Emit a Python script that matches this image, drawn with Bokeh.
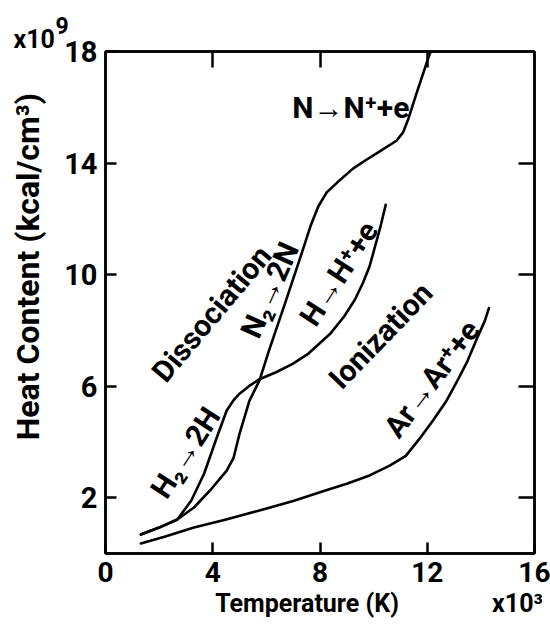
import math
from bokeh.plotting import figure
from bokeh.models import LinearAxis, FixedTicker, ColumnDataSource, Range1d, Title
from bokeh.core.properties import value
from bokeh.embed import file_html
from bokeh.resources import INLINE

# ---- data (temperature in 10^3 K, heat content in 10^9 kcal/cm^3) ----
T_H = [1.32, 2.0, 2.68, 3.2, 3.68, 4.15, 4.52, 4.78, 5.0, 5.35, 5.74, 6.36, 6.98,
       7.57, 8.4, 8.9, 9.3, 9.6, 9.85, 10.05, 10.25, 10.45]
Q_H = [0.68, 0.93, 1.22, 1.9, 2.87, 4.16, 5.13, 5.5, 5.73, 6.0, 6.25, 6.5, 6.8,
       7.17, 7.9, 8.5, 9.1, 9.7, 10.3, 11.0, 11.7, 12.5]

T_N = [1.32, 2.0, 2.68, 3.3, 3.9, 4.52, 4.78, 5.0, 5.37, 5.74, 6.1, 6.73, 7.35,
       7.65, 7.94, 8.25, 8.64, 9.23, 9.7, 10.2, 10.85, 11.1, 11.3, 11.6, 12.05, 12.13]
Q_N = [0.68, 0.93, 1.22, 1.65, 2.26, 2.97, 3.44, 4.3, 5.48, 6.2, 7.28, 9.07, 10.86,
       11.75, 12.45, 12.95, 13.3, 13.8, 14.1, 14.4, 14.8, 15.1, 15.6, 16.5, 17.8, 18.0]

T_Ar = [1.32, 2.2, 3.3, 4.5, 5.74, 7.0, 8.2, 9.0, 9.85, 10.6, 11.2, 11.7, 12.2,
        12.7, 13.1, 13.5, 13.85, 14.15, 14.3]
Q_Ar = [0.36, 0.6, 0.93, 1.22, 1.54, 1.88, 2.26, 2.5, 2.8, 3.15, 3.5, 4.1, 4.75,
        5.45, 6.15, 6.9, 7.7, 8.35, 8.8]

x_ticks = [0, 4, 8, 12, 16]
y_ticks = [2, 6, 10, 14, 18]
top_ticks = [4, 8, 12]
right_ticks = [2, 6, 10, 14]

label_text = ["Dissociation", "N\u2082\u21922N", "H\u2082\u21922H", "H\u2192H\u207a+e",
              "Ionization", "Ar\u2192Ar\u207a+e", "N\u2192N\u207a+e"]
label_T = [3.95, 6.12, 2.98, 8.7, 10.26, 12.17, 9.15]
label_Q = [8.6, 9.45, 3.62, 10.04, 7.82, 6.27, 15.99]
label_deg = [50, 66, 57, 57, 46, 53, 0]

FONT = "Roboto"
STYLE = "bold"
NB = "\u00a0"

p = figure(width=550, height=633, x_range=Range1d(0, 16), y_range=Range1d(0, 18),
           output_backend="svg", toolbar_location=None,
           x_axis_location=None, y_axis_location=None,
           min_border_left=105, min_border_right=16, min_border_top=51, min_border_bottom=80)
p.xgrid.visible = False
p.ygrid.visible = False
p.outline_line_color = "black"
p.outline_line_width = 2.5
p.background_fill_color = "white"
p.border_fill_color = "white"


def make_axis(ticks, tick_len, label_size, standoff):
    ax = LinearAxis(ticker=FixedTicker(ticks=ticks))
    ax.major_tick_in = tick_len
    ax.major_tick_out = 0
    ax.minor_tick_in = 0
    ax.minor_tick_out = 0
    ax.axis_line_color = "black"
    ax.axis_line_width = 2.5
    ax.major_tick_line_color = "black"
    ax.major_tick_line_width = 2.5
    ax.major_label_text_font = FONT
    ax.major_label_text_font_style = STYLE
    ax.major_label_text_color = "black"
    ax.major_label_standoff = standoff
    if label_size:
        ax.major_label_text_font_size = label_size
    else:
        ax.major_label_overrides = {t: "" for t in ticks}
        ax.major_label_text_font_size = "2px"
    ax.axis_label_text_font = FONT
    ax.axis_label_text_font_style = STYLE
    ax.axis_label_text_color = "black"
    return ax


xb = make_axis(x_ticks, 11, "28px", 8)
xb.axis_label = NB * 19 + "Temperature (K)" + NB * 15 + "x10\u00b3"
xb.axis_label_text_font_size = "25px"
xb.axis_label_standoff = 4
p.add_layout(xb, "below")

yl = make_axis(y_ticks, 11, "29px", 8)
yl.axis_label = NB * 9 + "Heat Content (kcal/cm\u00b3)"
yl.axis_label_text_font_size = "32px"
yl.axis_label_standoff = 14
p.add_layout(yl, "left")

p.add_layout(make_axis(top_ticks, 16, None, 0), "above")
p.add_layout(make_axis(right_ticks, 16, None, 0), "right")

p.add_layout(Title(text="x10", align="left", offset=-92, standoff=-4,
                   text_font=FONT, text_font_style=STYLE, text_font_size="25px",
                   text_color="black"), "above")
p.add_layout(Title(text="9", align="left", offset=-50, standoff=-18,
                   text_font=FONT, text_font_style=STYLE, text_font_size="23px",
                   text_color="black"), "above")

for tx, qy in [(T_H, Q_H), (T_N, Q_N), (T_Ar, Q_Ar)]:
    p.line(tx, qy, line_color="black", line_width=2.6, line_join="round", line_cap="round")

src = ColumnDataSource(dict(x=label_T, y=label_Q, text=label_text,
                            angle=[math.radians(a) for a in label_deg]))
p.text(x="x", y="y", text="text", angle="angle", source=src,
       text_font=value(FONT), text_font_style=STYLE, text_font_size="30px",
       text_color="black", text_align="center", text_baseline="middle")

open("out.html", "w").write(file_html(p, INLINE))
